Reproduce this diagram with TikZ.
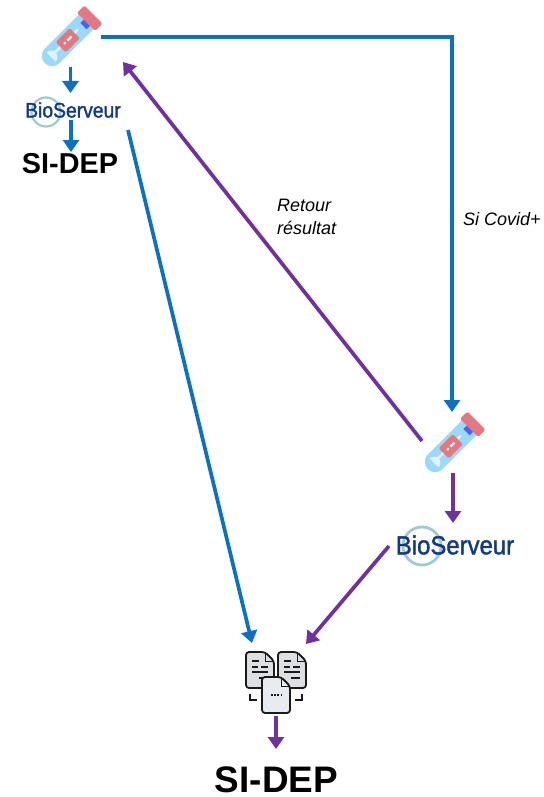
\documentclass[tikz,border=0pt]{standalone}
\usepackage{fontspec}
\setmainfont{Liberation Sans}
\newfontfamily\logofont[FakeBold=1.6]{Liberation Sans}
\usetikzlibrary{arrows.meta}
\definecolor{flowblue}{HTML}{0A72C2}
\definecolor{flowpurple}{HTML}{7030A0}
\definecolor{navylogo}{HTML}{123A80}
\definecolor{ringlogo}{HTML}{9CCAD6}
\definecolor{tubeblue}{HTML}{9ADAF8}
\definecolor{tubelight}{HTML}{DDF4FD}
\definecolor{capred}{HTML}{E4777F}
\definecolor{docgrey}{HTML}{DDDFE3}
\definecolor{docfront}{HTML}{E8ECF0}
\definecolor{docink}{HTML}{1A1A1A}
\tikzset{
  x=1pt,y=-1pt,
  flowline/.style={line width=3.7pt,-{Triangle[length=12pt,width=16pt]}},
  blueflow/.style={flowline,draw=flowblue},
  purpleflow/.style={flowline,draw=flowpurple},
  sidep/.style={text=black,inner sep=0pt,anchor=base},
  note/.style={font=\itshape\fontsize{18}{23}\selectfont,text=black,inner sep=0pt},
  pics/tube/.style={code={
    \fill[tubeblue] (-13,-32) -- (13,-32) -- (13,28) arc[start angle=0,end angle=180,radius=13] -- cycle;
    \fill[tubelight] (-2,-18) rectangle (1,30);
    \fill[tubelight] (-8,30) arc[start angle=180,end angle=360,radius=8] -- cycle;
    \fill[capred,rounded corners=1.5] (-9,-12) rectangle (9,13);
    \fill[white] (-1.5,-6) rectangle (1.5,1);
    \fill[white] (-1.2,4) rectangle (1.2,7);
    \fill[blue!55!tubeblue] (-4,-33) rectangle (7,-26);
    \fill[capred,rounded corners=1.5] (-16,-45) rectangle (16,-32);
  }},
  pics/docsheet/.style={code={
    \filldraw[fill=#1,draw=docink,line width=1.8pt,rounded corners=3,line join=round]
      (0,0) -- (19,0) -- (28,9) -- (28,36) -- (0,36) -- cycle;
    \draw[docink,line width=1pt] (19,0) -- (19,9) -- (28,9);
  }}
}
\newcommand{\doclines}[2]{%
  \begin{scope}[shift={(#1,#2)},docink,line width=1.4pt]
    \draw (6,9) -- (13,9);
    \draw (6,15) -- (12,15) (15,15) -- (22,15);
    \draw (6,20) -- (22,20);
    \draw (13,26) -- (22,26);
  \end{scope}}
\begin{document}
\begin{tikzpicture}
\useasboundingbox (0,0) rectangle (543,797);

% logos
\draw[ringlogo,line width=2.2pt] (46,112) circle[radius=14.5];
\node[font=\logofont\fontsize{21}{21}\selectfont,text=navylogo,inner sep=0pt,xscale=.92] (logoA) at (73,110) {BioServeur};
\draw[ringlogo,line width=2.8pt] (422,546) circle[radius=19];
\node[font=\logofont\fontsize{26}{26}\selectfont,text=navylogo,inner sep=0pt,xscale=.92] (logoB) at (455,545) {BioServeur};

% tubes
\pic[rotate=-45,scale=.8] at (68,40) {tube};
\pic[rotate=-45,scale=.8] at (451,446) {tube};

% documents
\pic at (246,652) {docsheet=docgrey};
\doclines{246}{652}
\pic at (278,652) {docsheet=docgrey};
\doclines{278}{652}
\draw[docink,line width=1.7pt] (250,694) -- (250,700) -- (257,700);
\draw[docink,line width=1.7pt] (302,694) -- (302,700) -- (295,700);
\pic at (262,677) {docsheet=docfront};
\draw[docink,line width=1.2pt,dash pattern=on 2pt off 1.2pt] (271,695) -- (282,695);

% labels
\node[sidep,font=\bfseries\fontsize{28.8}{30}\selectfont] (sidepA) at (70,173.5) {SI-DEP};
\node[sidep,font=\bfseries\fontsize{36.9}{38}\selectfont] (sidepB) at (276.5,792.5) {SI-DEP};
\node[note,anchor=west] (retourA) at (277,205) {Retour};
\node[note,anchor=west] (retourB) at (277,228) {résultat};
\node[note,anchor=west] (covid) at (463,219) {Si Covid+};

% connector ends
\coordinate (tubeAright) at (101,37);
\coordinate (corner) at (452,37);
\coordinate (tubeBtop) at (452,412);
\coordinate (tubeAbottom) at (70.5,67);
\coordinate (logoAtop) at (70.5,93);
\coordinate (logoAbottom) at (71,120);
\coordinate (sidepAtop) at (71,152);
\coordinate (logoAlow) at (128,130);
\coordinate (docsTopL) at (252,643);
\coordinate (tubeBleft) at (422,441);
\coordinate (tubeAreturn) at (123,62);
\coordinate (tubeBbottom) at (453,473);
\coordinate (logoBtop) at (453,523);
\coordinate (logoBleft) at (389,546);
\coordinate (docsTopR) at (306,644);
\coordinate (docsBottom) at (276,716);
\coordinate (sidepBtop) at (276,749);

% connectors
\draw[blueflow] (tubeAright) -- (corner) -- (tubeBtop);
\draw[blueflow] (tubeAbottom) -- (logoAtop);
\draw[blueflow] (logoAbottom) -- (sidepAtop);
\draw[blueflow] (logoAlow) -- (docsTopL);
\draw[purpleflow] (tubeBleft) -- (tubeAreturn);
\draw[purpleflow] (tubeBbottom) -- (logoBtop);
\draw[purpleflow] (logoBleft) -- (docsTopR);
\draw[purpleflow] (docsBottom) -- (sidepBtop);
\end{tikzpicture}
\end{document}
